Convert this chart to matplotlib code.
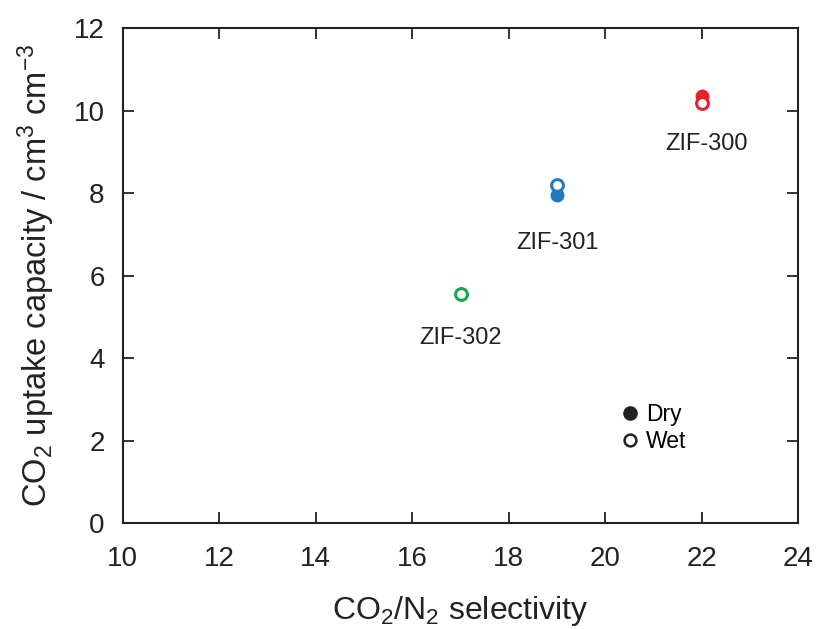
import matplotlib.pyplot as plt
from matplotlib.lines import Line2D

plt.rcParams['font.family'] = ['Liberation Sans', 'DejaVu Sans']
plt.rcParams['mathtext.fontset'] = 'custom'
plt.rcParams['mathtext.rm'] = 'Liberation Sans'
plt.rcParams['mathtext.it'] = 'Liberation Sans'

names = ['ZIF-300', 'ZIF-301', 'ZIF-302']
selectivity = [22, 19, 17]
uptake_dry = [10.37, 7.95, 5.55]
uptake_wet = [10.18, 8.2, 5.55]
colors = ['#e8202a', '#2278c2', '#1aa84c']
label_xy = [(22.1, 9.2), (19.0, 6.8), (17.0, 4.5)]

fig = plt.figure(figsize=(8.18, 6.29), dpi=100)
ax = fig.add_axes([0.15, 0.168, 0.826, 0.787])

for x, yd, yw, c, name, (lx, ly) in zip(selectivity, uptake_dry, uptake_wet,
                                         colors, names, label_xy):
    ax.plot(x, yd, 'o', ms=9, color=c, mec=c)
    ax.plot(x, yw, 'o', ms=8.5, mfc='white', mec=c, mew=2.2)
    ax.text(lx, ly, name, ha='center', va='center', fontsize=17, color='#222222')

ax.set_xlim(10, 24)
ax.set_ylim(0, 12)
ax.set_xticks(range(10, 25, 2))
ax.set_yticks(range(0, 13, 2))
ax.tick_params(direction='in', length=8, width=1.3, labelsize=20,
               top=True, right=True, pad=13, colors='#222222')
ax.tick_params(axis='x', pad=16)
for s in ax.spines.values():
    s.set_linewidth(1.5)
    s.set_color('#222222')

ax.set_xlabel('CO$_2$/N$_2$ selectivity', fontsize=23, labelpad=16, color='#222222')
ax.set_ylabel('CO$_2$ uptake capacity / cm$^3$ cm$^{-3}$', fontsize=23.5,
              labelpad=12, color='#222222')

handles = [Line2D([], [], ls='', marker='o', ms=9.5, color='#222222'),
           Line2D([], [], ls='', marker='o', ms=8.5, mfc='white', mec='#222222', mew=1.8)]
ax.legend(handles, ['Dry', 'Wet'], loc='upper left', bbox_to_anchor=(0.70, 0.285),
          frameon=False, fontsize=16.5, handletextpad=0.1, labelspacing=0.2,
          handlelength=1.2)

fig.savefig('out.png', dpi=100)
